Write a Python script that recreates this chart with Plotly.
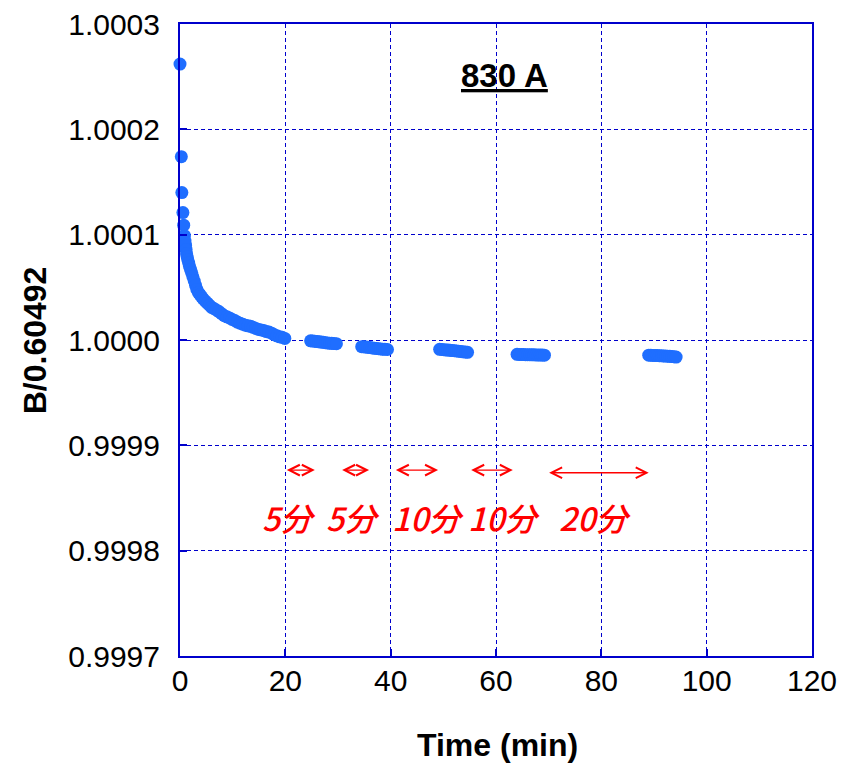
import plotly.graph_objects as go

# ---- data ----
seg1_t = [0.00, 0.25, 0.35, 0.55, 0.70, 0.85, 0.95, 1.05, 1.15, 1.25, 1.35, 1.50, 1.65, 1.80,
          2.00, 2.20, 2.45, 2.70, 2.95, 3.20, 3.50, 3.80, 4.10, 4.40, 4.80, 5.20, 5.60, 6.00,
          6.40, 6.90, 7.40, 7.90, 8.40, 8.90, 9.40, 9.90, 10.4, 10.9, 11.4, 11.9, 12.4, 12.9,
          13.4, 13.9, 14.4, 14.9, 15.4, 15.9, 16.4, 16.9, 17.4, 17.9, 18.4, 18.9, 19.4, 19.9]
seg1_b = [1.000262, 1.000174, 1.000140, 1.000121, 1.000109, 1.000099, 1.000094, 1.000090,
          1.000086, 1.000082, 1.000079, 1.000076, 1.000073, 1.000070, 1.000067, 1.000064,
          1.000060, 1.000056, 1.000052, 1.000048, 1.000045, 1.000043, 1.000041, 1.000039,
          1.000037, 1.000035, 1.000033, 1.000031, 1.0000300, 1.0000285, 1.000027, 1.000025,
          1.000023, 1.000022, 1.000021, 1.0000195, 1.0000185, 1.000017, 1.000016, 1.000015,
          1.000014, 1.0000135, 1.000013, 1.000012, 1.000011, 1.000010, 1.0000095, 1.000009,
          1.000008, 1.0000075, 1.0000065, 1.000005, 1.000004, 1.000003, 1.0000025, 1.0000015]

seg2_t = [24.8, 25.2, 25.6, 26.0, 26.4, 26.8, 27.2, 27.6, 28.0, 28.4, 28.8, 29.2, 29.7]
seg2_b = [0.9999992, 0.9999990, 0.9999988, 0.9999985, 0.9999983, 0.9999980, 0.9999978,
          0.9999975, 0.9999972, 0.9999970, 0.9999968, 0.9999966, 0.9999965]

seg3_t = [34.5, 34.9, 35.3, 35.7, 36.1, 36.5, 36.9, 37.3, 37.7, 38.1, 38.5, 38.9, 39.4]
seg3_b = [0.9999937, 0.9999935, 0.9999933, 0.9999930, 0.9999928, 0.9999925, 0.9999922,
          0.9999920, 0.9999917, 0.9999915, 0.9999913, 0.9999911, 0.9999910]

seg4_t = [49.3, 49.7, 50.1, 50.5, 50.9, 51.3, 51.7, 52.1, 52.5, 52.9, 53.3, 53.7, 54.2, 54.6]
seg4_b = [0.9999911, 0.9999910, 0.9999908, 0.9999906, 0.9999904, 0.9999902, 0.9999900,
          0.9999898, 0.9999896, 0.9999893, 0.9999891, 0.9999888, 0.9999885, 0.9999883]

seg5_t = [64.0, 64.4, 64.8, 65.2, 65.6, 66.0, 66.4, 66.8, 67.2, 67.6, 68.0, 68.4, 68.8, 69.2]
seg5_b = [0.9999864, 0.9999863, 0.9999863, 0.9999862, 0.9999861, 0.9999861, 0.9999860,
          0.9999859, 0.9999859, 0.9999858, 0.9999858, 0.9999857, 0.9999857, 0.9999856]

seg6_t = [89.0, 89.4, 89.8, 90.2, 90.6, 91.0, 91.4, 91.8, 92.2, 92.6, 93.0, 93.4, 93.8, 94.2]
seg6_b = [0.9999856, 0.9999855, 0.9999854, 0.9999853, 0.9999852, 0.9999851, 0.9999850,
          0.9999848, 0.9999847, 0.9999846, 0.9999845, 0.9999843, 0.9999841, 0.9999838]

# interval arrows: start, end, y
arrow_start = [20.0, 30.5, 40.7, 55.0, 69.8]
arrow_end = [25.6, 35.9, 49.0, 63.2, 89.0]
arrow_y = [0.9998765, 0.9998765, 0.9998765, 0.9998765, 0.999874]

interval_labels = ["5分", "5分", "10分", "10分", "20分"]
label_x = [20.7, 32.8, 47.0, 61.6, 78.8]
label_y = 0.999832

x_ticks = [0, 20, 40, 60, 80, 100, 120]
y_ticks = [0.9997, 0.9998, 0.9999, 1.0000, 1.0001, 1.0002, 1.0003]

title_text = "830 A"
x_title = "Time (min)"
y_title = "B/0.60492"

# ---- figure ----
all_t = seg1_t + seg2_t + seg3_t + seg4_t + seg5_t + seg6_t
all_b = seg1_b + seg2_b + seg3_b + seg4_b + seg5_b + seg6_b

BLUE = "#0000CC"
FONT = "Liberation Sans, Arial, sans-serif"

fig = go.Figure()
fig.add_trace(go.Scatter(
    x=all_t, y=all_b, mode="markers",
    marker=dict(size=13, color="#1F6EFF", line=dict(width=0)),
    showlegend=False, cliponaxis=False,
))

annotations = []
for s, e, yy in zip(arrow_start, arrow_end, arrow_y):
    annotations.append(dict(
        x=e, y=yy, ax=s, ay=yy, xref="x", yref="y", axref="x", ayref="y",
        text="", showarrow=True, arrowside="end+start", arrowhead=5, startarrowhead=5,
        arrowsize=1.5, startarrowsize=1.5, arrowwidth=1.4, arrowcolor="#FF0000",
    ))
for lab, lx in zip(interval_labels, label_x):
    annotations.append(dict(
        x=lx, y=label_y, xref="x", yref="y", text=lab, showarrow=False,
        font=dict(family="Noto Sans CJK JP, sans-serif", size=32, color="#FF0000",
                  style="italic", weight=500),
        xanchor="center", yanchor="middle",
    ))
annotations.append(dict(
    x=61.6, y=1.0002515, xref="x", yref="y", text=title_text, showarrow=False,
    font=dict(family=FONT, size=33, color="black", weight="bold", lineposition="under"),
    xanchor="center", yanchor="middle",
))
annotations.append(dict(
    x=0.5016, y=-0.141, xref="paper", yref="paper", text=x_title, showarrow=False,
    font=dict(family=FONT, size=32, color="black", weight="bold"),
    xanchor="center", yanchor="middle",
))
annotations.append(dict(
    x=-0.229, y=0.5, xref="paper", yref="paper", text=y_title, showarrow=False,
    textangle=-90,
    font=dict(family=FONT, size=32, color="black", weight="bold"),
    xanchor="center", yanchor="middle",
))

axis_common = dict(
    showline=True, linecolor=BLUE, linewidth=2, mirror=True,
    showgrid=True, gridcolor=BLUE, gridwidth=1.3, griddash="4px,3px",
    zeroline=False, ticks="inside", ticklen=7, tickcolor=BLUE, tickwidth=1.5,
    tickfont=dict(family=FONT, size=30, color="black"), automargin=False,
    ticklabeloverflow="allow",
)

# the page body adds an 8px offset, so the figure is 8px smaller than the window
fig.update_layout(
    width=839, height=758,
    margin=dict(l=172, r=35, t=16, b=110),
    paper_bgcolor="white", plot_bgcolor="white",
    xaxis=dict(range=[0, 120], tickvals=x_ticks, ticklabelstandoff=-3, **axis_common),
    yaxis=dict(range=[0.9997, 1.0003], tickvals=y_ticks, tickformat=".4f",
               ticklabelstandoff=12, **axis_common),
    annotations=annotations,
)

fig.write_html("out.html")
